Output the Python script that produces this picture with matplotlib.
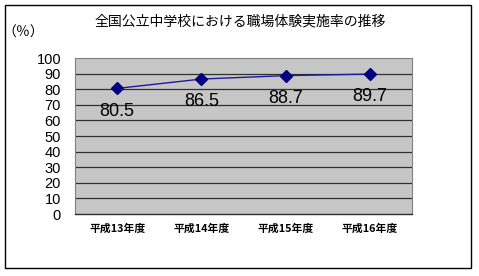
import matplotlib
matplotlib.use("Agg")
import matplotlib.pyplot as plt
from matplotlib.patches import Rectangle

categories = ["平成13年度", "平成14年度", "平成15年度", "平成16年度"]
values = [80.5, 86.5, 88.7, 89.7]
yticks = [0, 10, 20, 30, 40, 50, 60, 70, 80, 90, 100]
title = "全国公立中学校における職場体験実施率の推移"
unit_label = "（％）"

plt.rcParams['font.family'] = ['Noto Sans CJK JP', 'DejaVu Sans']

W, H = 479, 276
fig = plt.figure(figsize=(W / 100, H / 100), dpi=100)
fig.patch.set_facecolor('white')

# outer border
fig.add_artist(Rectangle((5 / W, 1 - 268 / H), 465.5 / W, 263.5 / H,
                         transform=fig.transFigure, fill=False,
                         edgecolor='black', linewidth=1.0))

left, right, top, bottom = 75, 412, 58, 214
ax = fig.add_axes([left / W, 1 - bottom / H, (right - left) / W, (bottom - top) / H])
ax.set_facecolor('#c6c6c6')

x = range(len(categories))
ax.set_xlim(-0.5, len(categories) - 0.5)
ax.set_ylim(0, 100)

for yv in yticks[1:-1]:
    ax.axhline(yv, color='#303030', linewidth=0.9, zorder=1)

ax.plot(list(x), values, color='#1c1c9c', linewidth=1.0, marker='D',
        markersize=6, markerfacecolor='#000080', markeredgecolor='#000080', zorder=3)

for xi, v in zip(x, values):
    ax.annotate(f"{v}", (xi, v), xytext=(0, -16.5), textcoords='offset points',
                ha='center', va='center', fontsize=13,
                family=['Liberation Sans', 'DejaVu Sans'], color='black', zorder=4)

ax.set_yticks(yticks)
ax.set_yticklabels([str(t) for t in yticks], family=['Liberation Sans', 'DejaVu Sans'],
                   fontsize=10.5)
ax.set_xticks(list(x))
ax.set_xticklabels(categories, fontsize=7.8, fontweight='bold')
ax.tick_params(axis='y', length=0, pad=10)
ax.tick_params(axis='x', length=0, pad=7)

for s in ['top', 'right', 'left']:
    ax.spines[s].set_color('#808080')
    ax.spines[s].set_linewidth(0.8)
ax.spines['bottom'].set_color('#303030')
ax.spines['bottom'].set_linewidth(1.0)

fig.text(240 / W, 1 - 21 / H, title, ha='center', va='center', fontsize=10)
fig.text(2 / W, 1 - 33 / H, unit_label, ha='left', va='center', fontsize=10)

fig.savefig("out.png", dpi=100, facecolor='white')
